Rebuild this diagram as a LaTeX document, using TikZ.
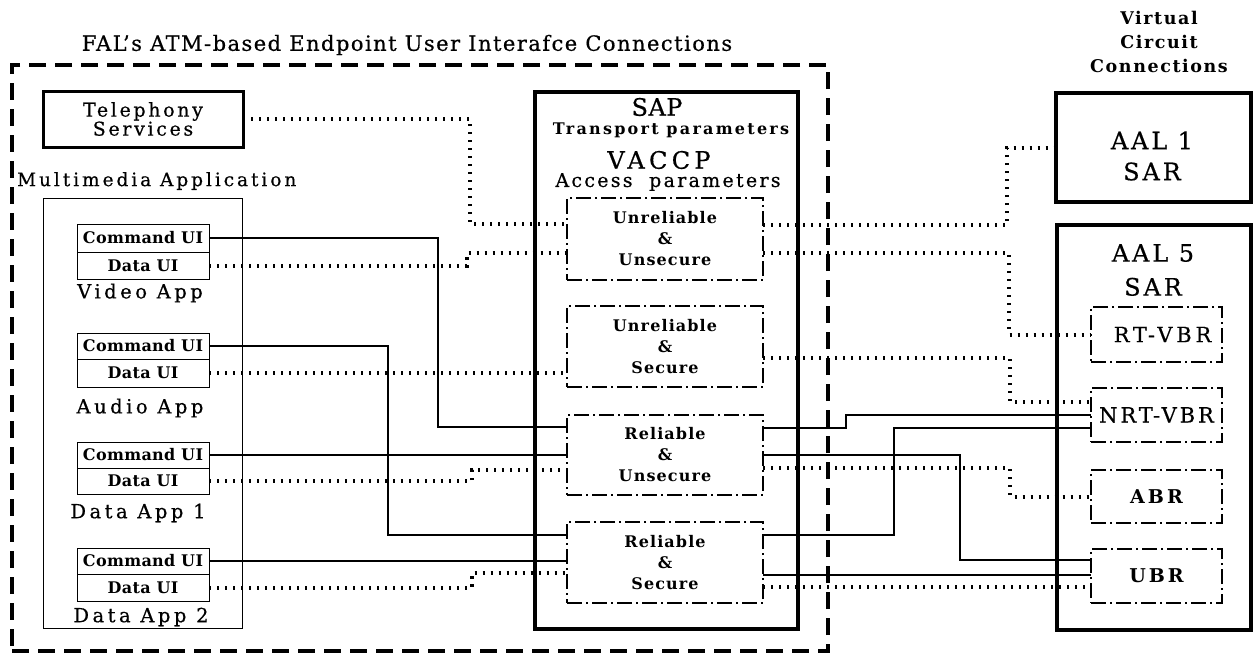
\documentclass[tikz,border=0pt]{standalone}
\usepackage{fontspec}
\setmainfont{DejaVu Serif}[UprightFeatures={FakeBold=0.5}]
\usetikzlibrary{calc}
\newcommand\fz[3]{\fontsize{#1}{#2}\selectfont\addfontfeature{LetterSpace=#3}}
\begin{document}
\begin{tikzpicture}[x=1pt,y=-1pt,
  box/.style={draw, inner sep=0pt, outer sep=0pt, anchor=north west, align=center},
  thickbox/.style={box, line width=3.5pt},
  thinbox/.style={box, line width=1pt},
  ddbox/.style={box, line width=2pt, dash pattern=on 15pt off 4pt on 2pt off 4pt},
  dotc/.style={line width=4pt, dash pattern=on 2.4pt off 5.6pt},
  solc/.style={line width=2pt},
  lbl/.style={inner sep=0pt, align=center},
  uifont/.style={font=\bfseries\fz{16}{16}{2}},
  appfont/.style={font=\fz{19.5}{19.5}{18}},
  qosfont/.style={font=\bfseries\fz{16}{21}{7}},
]
\fill[white] (0,0) rectangle (1254,659);
\useasboundingbox (0,0) rectangle (1254,659);

% title and outer frame
\node[lbl, font=\fz{21}{21}{7}] (title) at (407,45) {FAL's ATM-based Endpoint User Interafce Connections};
\node[box, line width=4pt, dash pattern=on 17pt off 9pt, minimum width=816pt, minimum height=586pt] (fal) at (12,65) {};

% telephony
\node[box, line width=3pt, minimum width=200pt, minimum height=56pt, font=\fz{19}{19}{14}] (tel) at (43,91) {Telephony\\Services};

% multimedia application
\node[lbl, anchor=west, font=\fz{18.5}{18.5}{16}] (mmlbl) at (17,181) {Multimedia Application};
\node[thinbox, minimum width=199pt, minimum height=430pt] (mm) at (43,198) {};

\node[thinbox, uifont, minimum width=132pt, minimum height=28pt] (vcmd) at (77,224) {Command UI};
\node[thinbox, uifont, minimum width=132pt, minimum height=27pt] (vdat) at (77,252) {Data UI};
\node[lbl, appfont] (vlbl) at (140,293) {Video App};

\node[thinbox, uifont, minimum width=132pt, minimum height=26pt] (acmd) at (77,333) {Command UI};
\node[thinbox, uifont, minimum width=132pt, minimum height=28pt] (adat) at (77,359) {Data UI};
\node[lbl, appfont] (albl) at (140,408) {Audio App};

\node[thinbox, uifont, minimum width=132pt, minimum height=26pt] (d1cmd) at (77,442) {Command UI};
\node[thinbox, uifont, minimum width=132pt, minimum height=26pt] (d1dat) at (77,468) {Data UI};
\node[lbl, appfont] (d1lbl) at (138,513) {Data App 1};

\node[thinbox, uifont, minimum width=132pt, minimum height=26pt] (d2cmd) at (77,548) {Command UI};
\node[thinbox, uifont, minimum width=132pt, minimum height=27pt] (d2dat) at (77,574) {Data UI};
\node[lbl, appfont] (d2lbl) at (141,617) {Data App 2};

% SAP
\node[box, line width=4pt, minimum width=263pt, minimum height=537pt] (sap) at (535,92) {};
\node[lbl, font=\fz{24}{24}{2}] (saplbl) at (657,107) {SAP};
\node[lbl, font=\bfseries\fz{16}{16}{14}] (tp) at (671,130) {Transport parameters};
\node[lbl, font=\fz{24}{24}{18}] (vaccp) at (659,160) {VACCP};
\node[lbl, font=\fz{19}{19}{12}] (ap) at (668,182) {Access\ \ parameters};

\node[ddbox, qosfont, minimum width=196pt, minimum height=82pt] (uu) at (567,198) {Unreliable\\\&\\Unsecure};
\node[ddbox, qosfont, minimum width=196pt, minimum height=81pt] (us) at (567,306) {Unreliable\\\&\\Secure};
\node[ddbox, qosfont, minimum width=196pt, minimum height=80pt] (ru) at (567,415) {Reliable\\\&\\Unsecure};
\node[ddbox, qosfont, minimum width=196pt, minimum height=81pt] (rs) at (567,522) {Reliable\\\&\\Secure};

% virtual circuit side
\node[lbl, font=\bfseries\fz{17.5}{24}{9}] (vcc) at (1159,42) {Virtual\\Circuit\\Connections};
\node[thickbox, line width=4pt, minimum width=195pt, minimum height=109pt] (aal1) at (1056,93) {};
\node[lbl, font=\fz{24}{31}{12}] (aal1t) at (1152,156) {AAL 1\\SAR};
\node[thickbox, line width=4pt, minimum width=194pt, minimum height=405pt] (aal5) at (1057,225) {};
\node[lbl, font=\fz{24}{34}{12}] (aal5t) at (1153,270) {AAL 5\\SAR};

\node[ddbox, font=\fz{21}{21}{18}, minimum width=131pt, minimum height=55pt] (rtvbr) at (1091,307) {\raisebox{-8pt}{\hspace{12pt}RT-VBR}};
\node[ddbox, font=\fz{21}{21}{14}, minimum width=131pt, minimum height=54pt] (nrtvbr) at (1091,388) {\raisebox{-5pt}{NRT-VBR}};
\node[ddbox, font=\bfseries\fz{19}{19}{16}, minimum width=131pt, minimum height=53pt] (abr) at (1091,470) {ABR};
\node[ddbox, font=\bfseries\fz{19}{19}{16}, minimum width=131pt, minimum height=54pt] (ubr) at (1091,549) {UBR};

% connectors: telephony
\draw[dotc] (tel.east) -- (470,119) |- ($(uu.north west)+(0,26)$);
\draw[dotc] ($(uu.north east)+(0,27)$) -| ($(aal1.west)+(-49,0)$) -- (aal1.west);
% video
\draw[dotc] (vdat.east) -- ++(258,0) |- ($(uu.north west)+(0,55)$);
\draw[dotc] ($(uu.north east)+(0,55)$) -| ($(rtvbr.west)+(-82,0)$) -- (rtvbr.west);
\draw[solc] (vcmd.east) -| ($(ru.north west)+(-129,12)$) -- ($(ru.north west)+(0,12)$);
\draw[solc] ($(ru.north east)+(0,13)$) -- ++(83,0) |- ($(nrtvbr.north west)+(0,27)$);
% audio
\draw[dotc] (adat.east) -- (adat.east -| us.west);
\draw[dotc] ($(us.north east)+(0,52)$) -| ($(nrtvbr.north west)+(-81,14)$) -- ($(nrtvbr.north west)+(0,14)$);
\draw[solc] (acmd.east) -| ($(rs.north west)+(-179,13)$) -- ($(rs.north west)+(0,13)$);
\draw[solc] ($(rs.north east)+(0,13)$) -| ($(nrtvbr.north west)+(-197,40)$) -- ($(nrtvbr.north west)+(0,40)$);
% data app 1
\draw[solc] (d1cmd.east) -- (d1cmd.east -| ru.west);
\draw[solc] ($(ru.north east)+(0,40)$) -| ($(ubr.north west)+(-131,11)$) -- ($(ubr.north west)+(0,11)$);
\draw[dotc] (d1dat.east) -- ++(263,0) |- ($(ru.north west)+(0,55)$);
\draw[dotc] ($(ru.north east)+(0,53)$) -| ($(abr.west)+(-81,0)$) -- (abr.west);
% data app 2
\draw[solc] (d2cmd.east) -- (d2cmd.east -| rs.west);
\draw[solc] ($(rs.north east)+(0,53)$) -- ($(ubr.north west)+(0,26)$);
\draw[dotc] (d2dat.east) -- ++(263,0) |- ($(rs.north west)+(0,51)$);
\draw[dotc] ($(rs.north east)+(0,65)$) -- ($(ubr.north west)+(0,38)$);
\end{tikzpicture}
\end{document}
